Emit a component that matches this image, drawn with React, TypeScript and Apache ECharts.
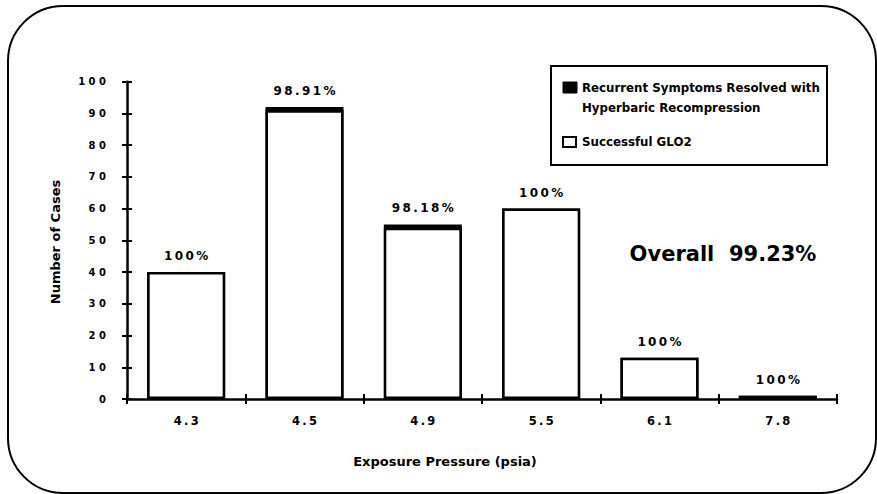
import React, { useEffect, useRef } from "react";
import * as echarts from "echarts";

const categories = ["4.3", "4.5", "4.9", "5.5", "6.1", "7.8"];
const successfulGLO2 = [40, 91, 54, 60, 13, 1];
const recurrentResolved = [0, 1, 1, 0, 0, 0];
const pctLabels = ["100%", "98.91%", "98.18%", "100%", "100%", "100%"];
const overallText = "Overall  99.23%";
const yMin = 0;
const yMax = 100;
const yInterval = 10;
const legendRecurrent = ["Recurrent Symptoms Resolved with", "Hyperbaric Recompression"];
const legendSuccess = "Successful GLO2";
const xTitle = "Exposure Pressure (psia)";
const yTitle = "Number of Cases";

const FONT = "DejaVu Sans";
const spaced = (s: string, sep: string) => s.split("").join(sep);

export default function App() {
  const ref = useRef<HTMLDivElement>(null);
  useEffect(() => {
    document.body.style.margin = "0";
    const chart = echarts.init(ref.current!, null, { renderer: "svg" });
    const axisCommon = {
      axisLine: { show: true, lineStyle: { color: "#000", width: 2.5 } },
    };
    // stacked totals: recurrent cases sit on top of the successful ones
    const totals = successfulGLO2.map((v, i) => v + recurrentResolved[i]);
    chart.setOption({
      animation: false,
      backgroundColor: "#fff",
      grid: { left: 127, right: 40, top: 81.7, bottom: 95, containLabel: false },
      xAxis: [
        {
          type: "category",
          data: categories,
          position: "bottom",
          ...axisCommon,
          axisTick: { show: true, inside: false, length: 5, lineStyle: { color: "#000", width: 2 } },
          axisLabel: {
            margin: 16,
            color: "#000",
            fontFamily: FONT,
            fontWeight: "bold",
            fontSize: 11.5,
            formatter: (v: string) => spaced(v, "\u2009"),
          },
        },
        {
          type: "category",
          data: categories,
          position: "bottom",
          axisLine: { show: false },
          axisTick: { show: true, inside: true, length: 5, lineStyle: { color: "#000", width: 2 } },
          axisLabel: { show: false },
        },
      ],
      yAxis: [
        {
          type: "value",
          min: yMin,
          max: yMax,
          interval: yInterval,
          position: "left",
          ...axisCommon,
          splitLine: { show: false },
          axisTick: { show: true, inside: false, length: 5, lineStyle: { color: "#000", width: 2 } },
          axisLabel: {
            margin: 21,
            color: "#000",
            fontFamily: FONT,
            fontWeight: "bold",
            fontSize: 10,
            formatter: (v: number) => spaced(String(v), " "),
          },
        },
        {
          type: "value",
          min: yMin,
          max: yMax,
          interval: yInterval,
          position: "left",
          axisLine: { show: false },
          splitLine: { show: false },
          axisTick: { show: true, inside: true, length: 5, lineStyle: { color: "#000", width: 2 } },
          axisLabel: { show: false },
        },
      ],
      series: [
        {
          name: legendRecurrent.join(" "),
          type: "bar",
          z: 2,
          data: totals,
          barWidth: 78,
          barGap: "-100%",
          itemStyle: { color: "#000", borderWidth: 0 },
          label: {
            show: true,
            position: "top",
            distance: 10,
            color: "#000",
            fontFamily: FONT,
            fontWeight: "bold",
            fontSize: 12,
            formatter: (p: any) => spaced(pctLabels[p.dataIndex], "\u2009"),
          },
        },
        {
          name: legendSuccess,
          type: "bar",
          z: 3,
          data: successfulGLO2,
          barWidth: 78,
          barGap: "-100%",
          itemStyle: { color: "#fff", borderColor: "#000", borderWidth: 2.5 },
        },
      ],
      graphic: [
        {
          type: "rect",
          z: -10,
          shape: { x: 8, y: 6, width: 868, height: 487, r: 55 },
          style: { fill: "none", stroke: "#000", lineWidth: 2 },
        },
        {
          type: "rect",
          shape: { x: 551, y: 66, width: 276, height: 99 },
          style: { fill: "#fff", stroke: "#000", lineWidth: 2 },
        },
        {
          type: "rect",
          shape: { x: 563, y: 82, width: 14, height: 11 },
          style: { fill: "#000", stroke: "#000", lineWidth: 1 },
        },
        {
          type: "text",
          x: 582,
          y: 88,
          style: {
            text: legendRecurrent[0],
            fill: "#000",
            font: `bold 11.8px "${FONT}"`,
            verticalAlign: "middle",
          },
        },
        {
          type: "text",
          x: 582,
          y: 108,
          style: {
            text: legendRecurrent[1],
            fill: "#000",
            font: `bold 11.8px "${FONT}"`,
            verticalAlign: "middle",
          },
        },
        {
          type: "rect",
          shape: { x: 563, y: 137, width: 13, height: 10 },
          style: { fill: "#fff", stroke: "#000", lineWidth: 2 },
        },
        {
          type: "text",
          x: 582,
          y: 142,
          style: {
            text: legendSuccess,
            fill: "#000",
            font: `bold 11.8px "${FONT}"`,
            verticalAlign: "middle",
          },
        },
        {
          type: "text",
          x: 723,
          y: 254,
          style: {
            text: overallText,
            fill: "#000",
            font: `bold 21px "${FONT}"`,
            align: "center",
            verticalAlign: "middle",
          },
        },
        {
          type: "text",
          x: 445,
          y: 461,
          style: {
            text: xTitle,
            fill: "#000",
            font: `bold 13px "${FONT}"`,
            align: "center",
            verticalAlign: "middle",
          },
        },
        {
          type: "text",
          x: 55,
          y: 242,
          rotation: Math.PI / 2,
          style: {
            text: yTitle,
            fill: "#000",
            font: `bold 13px "${FONT}"`,
            align: "center",
            verticalAlign: "middle",
          },
        },
      ],
    });
    return () => chart.dispose();
  }, []);
  return <div ref={ref} style={{ width: 877, height: 494 }} />;
}
